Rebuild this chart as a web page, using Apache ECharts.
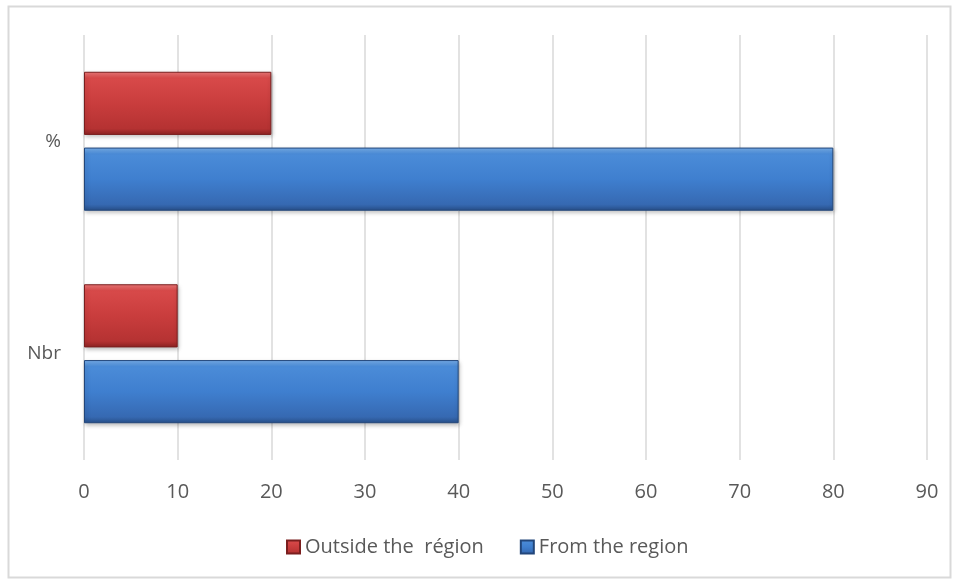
<!DOCTYPE html>
<html>
<head>
<meta charset="utf-8">
<script src="https://cdn.jsdelivr.net/npm/echarts@6/dist/echarts.min.js"></script>
<style>
html,body{margin:0;padding:0;background:#fff;}
#chart{width:956px;height:582px;}
</style>
</head>
<body>
<div id="chart"></div>
<script>
const categories = ['Nbr', '%'];
const outsideValues = [10, 20];
const fromValues = [40, 80];
const seriesNames = ['Outside the  région', 'From the region'];
const xTicks = [0, 10, 20, 30, 40, 50, 60, 70, 80, 90];

function grad(c0, c1, c2, c3, c4) {
  return new echarts.graphic.LinearGradient(0, 0, 0, 1, [
    {offset: 0, color: c0},
    {offset: 0.1, color: c1},
    {offset: 0.5, color: c2},
    {offset: 0.9, color: c3},
    {offset: 1, color: c4}
  ]);
}
const redFill = grad('#f07a7a', '#d84a4a', '#c93d3d', '#b53232', '#8c2222');
const blueFill = grad('#7ab2ee', '#4b8cd8', '#3f7fcf', '#3669b2', '#274f88');
const FONT = '"Open Sans", "Liberation Sans", Arial, sans-serif';

const chart = echarts.init(document.getElementById('chart'));
chart.setOption({
  animation: false,
  textStyle: {fontFamily: FONT},
  graphic: [{
    type: 'rect', shape: {x: 8.5, y: 6.5, width: 942, height: 571},
    style: {fill: 'none', stroke: '#d9d9d9', lineWidth: 2}, silent: true, z: -1
  }],
  grid: {left: 84, right: 29, top: 35, bottom: 122},
  legend: {
    data: seriesNames,
    top: 532, left: 281,
    itemWidth: 13, itemHeight: 13, itemGap: 36,
    icon: 'rect',
    textStyle: {color: '#595959', fontSize: 20, fontFamily: FONT}
  },
  xAxis: {
    type: 'value', min: xTicks[0], max: xTicks[xTicks.length - 1], interval: 10,
    axisLine: {show: false}, axisTick: {show: false},
    splitLine: {show: true, lineStyle: {color: '#d9d9d9', width: 1.5}},
    axisLabel: {color: '#595959', fontSize: 20, margin: 22, fontFamily: FONT}
  },
  yAxis: {
    type: 'category', data: categories,
    axisLine: {show: false}, axisTick: {show: false},
    axisLabel: {color: '#595959', fontSize: 19, margin: 23, fontFamily: FONT, padding: [4, 0, 0, 0]}
  },
  series: [
    {
      name: seriesNames[0], type: 'bar', data: outsideValues,
      barCategoryGap: '34.6%', barGap: '20%',
      itemStyle: {color: redFill, borderColor: '#7a1e1e', borderWidth: 1,
        shadowColor: 'rgba(0,0,0,0.25)', shadowBlur: 4, shadowOffsetY: 2, shadowOffsetX: 1}
    },
    {
      name: seriesNames[1], type: 'bar', data: fromValues,
      barCategoryGap: '34.6%', barGap: '20%',
      itemStyle: {color: blueFill, borderColor: '#22467a', borderWidth: 1,
        shadowColor: 'rgba(0,0,0,0.25)', shadowBlur: 4, shadowOffsetY: 2, shadowOffsetX: 1}
    }
  ]
});
</script>
</body>
</html>
